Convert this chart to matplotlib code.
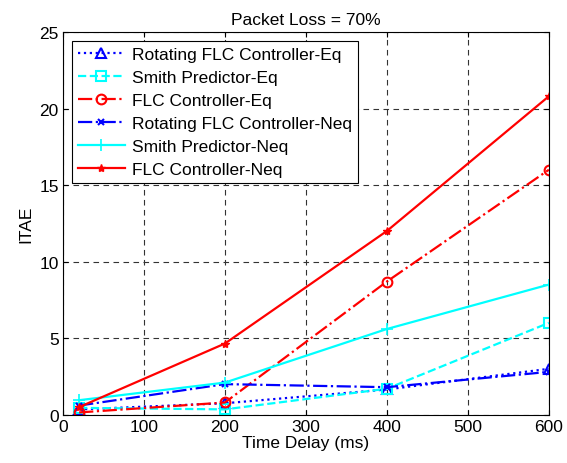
import matplotlib
matplotlib.use("Agg")
import matplotlib.pyplot as plt

plt.rcParams['font.family'] = ['Liberation Sans', 'DejaVu Sans']
FS = 12.5

# Time delay (ms) and ITAE for each controller
delay = [20, 200, 400, 600]
rot_eq = [0.35, 0.75, 1.65, 3.0]
smith_eq = [0.45, 0.35, 1.7, 6.0]
flc_eq = [0.15, 0.8, 8.7, 16.0]
rot_neq = [0.6, 2.0, 1.8, 2.8]
smith_neq = [0.95, 2.1, 5.6, 8.5]
flc_neq = [0.5, 4.65, 12.0, 20.8]

fig = plt.figure(figsize=(5.67, 4.64), dpi=100)
ax = fig.add_axes([0.111, 0.104, 0.857, 0.825])

ax.plot(delay, rot_eq, color='blue', ls=':', lw=1.6, marker='^', ms=7, mfc='none', mew=1.5,
        label='Rotating FLC Controller-Eq')
ax.plot(delay, smith_eq, color='cyan', ls='--', lw=1.6, marker='s', ms=7, mfc='none', mew=1.5,
        label='Smith Predictor-Eq')
ax.plot(delay, flc_eq, color='red', ls='-.', lw=1.6, marker='o', ms=7, mfc='none', mew=1.5,
        label='FLC Controller-Eq')
ax.plot(delay, rot_neq, color='blue', ls='-.', lw=1.6, marker='x', ms=4, mew=1.5,
        label='Rotating FLC Controller-Neq')
ax.plot(delay, smith_neq, color='cyan', ls='-', lw=1.6, marker='+', ms=8, mew=1.2,
        label='Smith Predictor-Neq')
ax.plot(delay, flc_neq, color='red', ls='-', lw=1.6, marker='*', ms=6, mew=1,
        label='FLC Controller-Neq')

ax.set_xlim(0, 600)
ax.set_ylim(0, 25)
ax.set_xticks(range(0, 601, 100))
ax.set_yticks(range(0, 26, 5))
ax.grid(True, color='#333333', ls=(0, (5, 4)), lw=0.8)
ax.tick_params(direction='in', top=True, right=True, labelsize=FS, pad=3)
ax.set_xlabel('Time Delay (ms)', fontsize=FS, labelpad=1)
ax.set_ylabel('ITAE', fontsize=FS, labelpad=4)
ax.set_title('Packet Loss = 70%', fontsize=FS, pad=6)

leg = ax.legend(loc='upper left', fontsize=FS, fancybox=False, framealpha=1,
                edgecolor='black', borderaxespad=0.5, handlelength=2.7,
                labelspacing=0.45, borderpad=0.35, handletextpad=0.4)
leg.get_frame().set_linewidth(0.8)

fig.savefig('out.png', dpi=100)
